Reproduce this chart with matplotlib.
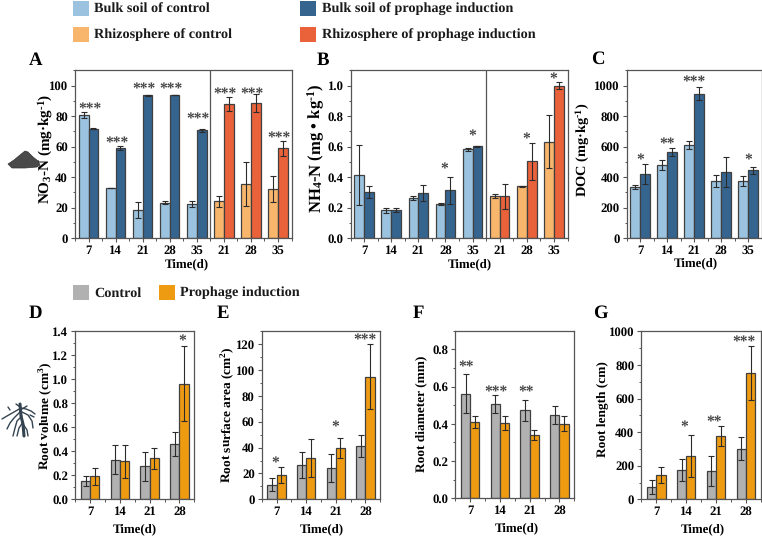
import matplotlib
matplotlib.use('Agg')
import matplotlib.pyplot as plt
from matplotlib.patches import Polygon, Rectangle
from matplotlib.ticker import MultipleLocator

plt.rcParams['font.family'] = 'Liberation Serif'
plt.rcParams['font.weight'] = 'bold'
plt.rcParams['axes.labelweight'] = 'bold'
plt.rcParams['mathtext.fontset'] = 'custom'
plt.rcParams['mathtext.rm'] = 'Liberation Serif:bold'
plt.rcParams['mathtext.default'] = 'rm'
plt.rcParams['text.hinting'] = 'no_hinting'

W, H = 762, 537

BLUE_L = '#9bc3df'
BLUE_D = '#35648f'
ORANGE_L = '#f8b56c'
RED = '#e9623a'
GREY = '#b1b1b1'
ORANGE = '#ee9b12'
EDGE = '#404040'
SPINE = '#555555'

# soil panels: 5 bulk soil groups, then 3 rhizosphere groups
soil_days = ['7', '14', '21', '28', '35', '21', '28', '35']
doc_days = ['7', '14', '21', '28', '35']
root_days = ['7', '14', '21', '28']

no3_ctrl = [80.6, 32.9, 18.5, 23.3, 22.4, 24.2, 35.3, 32.0]
no3_ctrl_err = [2.0, 0.2, 5.2, 0.9, 1.8, 3.5, 14.4, 8.5]
no3_pro = [71.7, 59.0, 93.7, 93.7, 70.6, 87.8, 88.5, 58.8]
no3_pro_err = [0.3, 1.2, 0.3, 0.1, 1.2, 4.4, 6.0, 4.6]
no3_stars = ['***', '***', '***', '***', '***', '***', '***', '***']
no3_star_y = [85.5, 63.0, 98.5, 98.5, 79.0, 95.0, 95.0, 66.5]

nh4_ctrl = [0.412, 0.183, 0.264, 0.224, 0.582, 0.275, 0.340, 0.632]
nh4_ctrl_err = [0.196, 0.017, 0.010, 0.006, 0.012, 0.012, 0.001, 0.174]
nh4_pro = [0.303, 0.187, 0.298, 0.314, 0.603, 0.275, 0.503, 1.000]
nh4_pro_err = [0.042, 0.012, 0.052, 0.090, 0.002, 0.080, 0.122, 0.025]
nh4_stars = ['', '', '', '*', '*', '', '*', '*']
nh4_star_y = [0, 0, 0, 0.46, 0.675, 0, 0.66, 1.05]

doc_ctrl = [335, 477, 608, 375, 375]
doc_ctrl_err = [12, 33, 26, 37, 30]
doc_pro = [420, 564, 948, 436, 444]
doc_pro_err = [64, 24, 45, 98, 20]
doc_stars = ['*', '**', '***', '', '*']
doc_star_y = [518, 625, 1030, 0, 520]

vol_ctrl = [0.148, 0.331, 0.273, 0.457]
vol_ctrl_err = [0.042, 0.117, 0.122, 0.100]
vol_pro = [0.192, 0.315, 0.340, 0.964]
vol_pro_err = [0.070, 0.135, 0.089, 0.312]
vol_stars = ['', '', '', '*']
vol_star_y = [0, 0, 0, 1.326]

area_ctrl = [11.3, 26.5, 24.2, 41.0]
area_ctrl_err = [4.9, 9.8, 10.8, 8.4]
area_pro = [18.5, 31.7, 39.7, 94.8]
area_pro_err = [6.2, 14.7, 7.7, 25.2]
area_stars = ['*', '', '*', '***']
area_star_y = [28.8, 0, 56.7, 124]

diam_ctrl = [0.562, 0.505, 0.472, 0.446]
diam_ctrl_err = [0.104, 0.048, 0.054, 0.048]
diam_pro = [0.412, 0.404, 0.340, 0.401]
diam_pro_err = [0.032, 0.036, 0.025, 0.039]
diam_stars = ['**', '***', '**', '']
diam_star_y = [0.714, 0.576, 0.580, 0]

len_ctrl = [71, 173, 167, 300]
len_ctrl_err = [42, 66, 88, 69]
len_pro = [145, 258, 375, 750]
len_pro_err = [46, 124, 60, 161]
len_stars = ['', '*', '**', '***']
len_star_y = [0, 435, 470, 944]


def pixel_axes(fig, left, top, right, bottom):
    return fig.add_axes([left / W, 1 - bottom / H, (right - left) / W, (bottom - top) / H])


def bar_panel(ax, days, ctrl, ctrl_err, pro, pro_err, stars, star_y, ylim, major, minor, ylabel,
              ctrl_colors, pro_colors, width, star_dx=0.0, ylabel_size=9.6):
    x = list(range(len(days)))
    err_style = dict(ecolor='#2b2b2b', elinewidth=0.8, capsize=2, capthick=0.8)
    ax.bar([i - width / 2 for i in x], ctrl, width, color=ctrl_colors, edgecolor=EDGE, linewidth=0.9,
           yerr=ctrl_err, error_kw=err_style)
    ax.bar([i + width / 2 for i in x], pro, width, color=pro_colors, edgecolor=EDGE, linewidth=0.9,
           yerr=pro_err, error_kw=err_style)
    for i, (s, y) in enumerate(zip(stars, star_y)):
        if s:
            ax.annotate(s, (i + star_dx, y), xytext=(0, -1.4), textcoords='offset points',
                        ha='center', va='center', fontsize=11.2, color='#444444')
    ax.set_xlim(-0.5, len(days) - 0.5)
    ax.set_ylim(*ylim)
    ax.set_xticks(x)
    ax.set_xticklabels(days)
    ax.xaxis.set_minor_locator(MultipleLocator(0.5))
    ax.yaxis.set_major_locator(MultipleLocator(major))
    ax.yaxis.set_minor_locator(MultipleLocator(minor))
    ax.tick_params(axis='both', which='major', length=3, width=0.8, color=SPINE, labelsize=9.2, pad=2)
    ax.tick_params(axis='both', which='minor', length=1.8, width=0.7, color=SPINE)
    for s in ax.spines.values():
        s.set_linewidth(0.9)
        s.set_color(SPINE)
    ax.set_xlabel('Time(d)', fontsize=9.3)
    ax.set_ylabel(ylabel, fontsize=ylabel_size)


def place_labels(fig, ax, xlabel_at, ylabel_at):
    # axis label centres, given in figure pixels
    to_fig = fig.transFigure
    ax.xaxis.set_label_coords(xlabel_at[0] / W, 1 - xlabel_at[1] / H, transform=to_fig)
    ax.xaxis.label.set_va('center')
    ax.yaxis.set_label_coords(ylabel_at[0] / W, 1 - ylabel_at[1] / H, transform=to_fig)
    ax.yaxis.label.set_va('center')


fig = plt.figure(figsize=(W / 100, H / 100), dpi=100)

soil_c = [BLUE_L] * 5 + [ORANGE_L] * 3
soil_p = [BLUE_D] * 5 + [RED] * 3

ax_a = pixel_axes(fig, 75, 70.3, 291.5, 238.3)
bar_panel(ax_a, soil_days, no3_ctrl, no3_ctrl_err, no3_pro, no3_pro_err, no3_stars, no3_star_y,
          (0, 110), 20, 10, r'NO$_{3}$-N (mg·kg$^{\text{-}1}$)', soil_c, soil_p, 0.36, 0.05, 10.9)
ax_a.axvline(4.5, color=SPINE, lw=0.9)
place_labels(fig, ax_a, (187, 264), (45.5, 149))

ax_b = pixel_axes(fig, 350.5, 70.3, 567.5, 238.3)
bar_panel(ax_b, soil_days, nh4_ctrl, nh4_ctrl_err, nh4_pro, nh4_pro_err, nh4_stars, nh4_star_y,
          (0, 1.1), 0.2, 0.1, r'NH$_{4}$-N (mg • kg$^{\text{-}1}$)', soil_c, soil_p, 0.36, -0.03, 12)
ax_b.axvline(4.5, color=SPINE, lw=0.9)
place_labels(fig, ax_b, (470, 264), (316, 148))

ax_c = pixel_axes(fig, 626.7, 70.3, 761.5, 238.3)
bar_panel(ax_c, doc_days, doc_ctrl, doc_ctrl_err, doc_pro, doc_pro_err, doc_stars, doc_star_y,
          (0, 1100), 200, 100, r'DOC (mg·kg$^{\text{-}1}$)', BLUE_L, BLUE_D, 0.36, 0.0, 10.4)
place_labels(fig, ax_c, (696, 263), (583, 150))

ax_d = pixel_axes(fig, 75.3, 331.3, 194.3, 499.2)
bar_panel(ax_d, root_days, vol_ctrl, vol_ctrl_err, vol_pro, vol_pro_err, vol_stars, vol_star_y,
          (0, 1.4), 0.2, 0.1, r'Root volume (cm$^{3}$)', GREY, ORANGE, 0.31, 0.08)
place_labels(fig, ax_d, (135, 529), (45, 416))

ax_e = pixel_axes(fig, 261.7, 331.3, 380.3, 499.3)
bar_panel(ax_e, root_days, area_ctrl, area_ctrl_err, area_pro, area_pro_err, area_stars, area_star_y,
          (0, 130), 20, 10, r'Root surface area (cm$^{2}$)', GREY, ORANGE, 0.31, -0.03)
place_labels(fig, ax_e, (322, 529), (227, 415))

ax_f = pixel_axes(fig, 455.3, 330.7, 574.3, 498.4)
bar_panel(ax_f, root_days, diam_ctrl, diam_ctrl_err, diam_pro, diam_pro_err, diam_stars, diam_star_y,
          (0, 0.9), 0.2, 0.1, 'Root diameter (mm)', GREY, ORANGE, 0.31, -0.13)
place_labels(fig, ax_f, (517, 528), (421, 414))

ax_g = pixel_axes(fig, 641.3, 331.3, 761, 499.3)
bar_panel(ax_g, root_days, len_ctrl, len_ctrl_err, len_pro, len_pro_err, len_stars, len_star_y,
          (0, 1000), 200, 100, 'Root length (cm)', GREY, ORANGE, 0.31, -0.08)
place_labels(fig, ax_g, (703, 529), (602, 409))

# overlay in pixel coordinates for legends, panel letters and icons
ov = fig.add_axes([0, 0, 1, 1], facecolor='none')
ov.set_xlim(0, W)
ov.set_ylim(H, 0)
ov.axis('off')

for name, px, py in [('A', 29, 60), ('B', 317, 60), ('C', 591, 59), ('D', 29, 313),
                     ('E', 217, 313), ('F', 413, 313), ('G', 593, 313)]:
    ov.text(px, py, name, fontsize=13.5, ha='left', va='center')

legend_items = [
    (73, 1, BLUE_L, 94, 'Bulk soil of control'),
    (300, 1, BLUE_D, 322, 'Bulk soil of prophage induction'),
    (73, 27, ORANGE_L, 94, 'Rhizosphere of control'),
    (300, 27, RED, 322, 'Rhizosphere of prophage induction'),
    (73, 285, GREY, 94, 'Control'),
    (159, 285, ORANGE, 180, 'Prophage induction'),
]
for px, py, col, tx, label in legend_items:
    ov.add_patch(Rectangle((px, py), 16, 15, facecolor=col, edgecolor='none'))
    ov.text(tx, py + 8, label, fontsize=10.3, ha='left', va='center', color='#1a1a1a')

# soil pile icon
ov.add_patch(Polygon([(8, 164), (14, 160), (20, 155), (25, 151), (28, 152), (33, 157), (38, 161),
                      (40, 165), (37, 167), (25, 168), (12, 168)],
                     closed=True, facecolor='#4a4a4a', edgecolor='#333333', lw=0.5))

# root icon
root_col = '#34434f'
root_lines = [
    [(20, 404), (21, 416), (23, 424), (24, 436)],
    [(21, 408), (14, 412), (7, 416), (2, 419)],
    [(21, 408), (26, 409), (31, 411), (35, 414)],
    [(20, 412), (14, 418), (10, 423), (7, 429)],
    [(22, 412), (28, 415), (32, 421), (33, 428)],
    [(22, 416), (17, 421), (15, 428), (13, 436)],
    [(23, 422), (19, 428), (17, 436)],
    [(23, 424), (27, 430), (28, 436)],
    [(16, 404), (20, 407)],
    [(27, 406), (22, 409)],
    [(10, 410), (8, 407)],
    [(30, 415), (34, 417)],
]
for i, seg in enumerate(root_lines):
    ov.plot([p[0] for p in seg], [p[1] for p in seg], color=root_col,
            lw=2.2 if i == 0 else 1.0, solid_capstyle='round')

fig.savefig('out.png', dpi=100)
